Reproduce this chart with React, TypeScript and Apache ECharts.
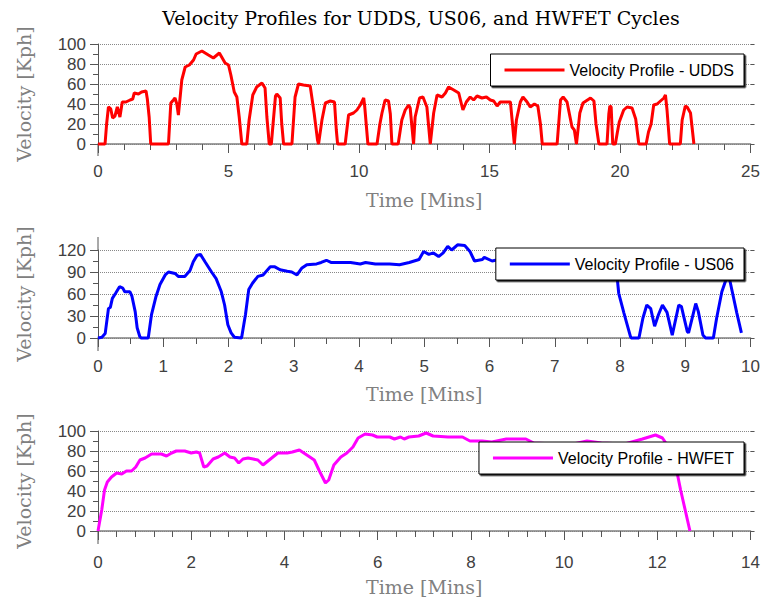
import { useEffect, useRef } from "react";
import * as echarts from "echarts";

const titleText = "Velocity Profiles for UDDS, US06, and HWFET Cycles";
const xName = "Time [Mins]";
const yName = "Velocity [Kph]";
const seriesNames = ["Velocity Profile - UDDS", "Velocity Profile - US06", "Velocity Profile - HWFET"];
const seriesColors = ["#ff0000", "#0000ff", "#ff00ff"];

// [time (min), speed (kph)]
const uddsPoints = [
  [0, 0], [0.27, 0], [0.33, 20], [0.4, 37], [0.49, 35], [0.56, 26], [0.65, 28], [0.74, 37], [0.84, 27], [0.93, 42],
  [1.07, 42], [1.23, 44], [1.33, 45], [1.39, 51], [1.55, 50], [1.67, 52], [1.84, 53], [1.89, 45], [1.96, 27], [2.02, 0],
  [2.7, 0], [2.79, 41], [2.89, 44], [2.95, 46], [3.02, 40], [3.08, 29], [3.14, 45], [3.21, 64], [3.34, 77], [3.5, 79],
  [3.66, 84], [3.76, 90], [3.98, 93], [4.23, 89], [4.42, 86], [4.65, 91], [4.87, 81], [5.0, 79], [5.09, 69], [5.22, 52],
  [5.32, 47], [5.41, 27], [5.51, 0], [5.7, 0], [5.79, 24], [5.93, 49], [6.08, 57], [6.28, 61], [6.4, 56], [6.47, 27],
  [6.56, 0], [6.64, 0], [6.72, 24], [6.8, 48], [6.85, 50], [6.98, 46], [7.04, 20], [7.11, 0], [7.43, 0], [7.55, 47],
  [7.68, 60], [7.87, 59], [8.13, 58], [8.28, 31], [8.41, 4], [8.45, 0], [8.58, 24], [8.71, 41], [8.9, 43], [9.06, 42],
  [9.13, 14], [9.18, 0], [9.47, 0], [9.6, 29], [9.79, 31], [9.92, 34], [10.05, 39], [10.18, 46], [10.22, 37], [10.34, 0],
  [10.69, 0], [10.8, 20], [10.88, 31], [11.0, 44], [11.13, 43], [11.2, 30], [11.26, 0], [11.5, 0], [11.64, 24], [11.77, 34],
  [11.9, 39], [11.96, 36], [12.09, 0], [12.15, 27], [12.32, 46], [12.45, 47], [12.6, 37], [12.73, 0], [12.86, 31], [12.99, 49],
  [13.18, 47], [13.31, 51], [13.43, 57], [13.63, 54], [13.82, 51], [13.98, 34], [14.11, 42], [14.26, 47], [14.39, 44], [14.52, 48],
  [14.71, 46], [14.88, 47], [15.03, 44], [15.16, 43], [15.29, 38], [15.41, 42], [15.8, 42], [15.88, 20], [15.95, 0], [16.03, 24],
  [16.18, 42], [16.28, 47], [16.44, 42], [16.56, 37], [16.72, 40], [16.85, 38], [16.95, 20], [17.02, 0], [17.59, 0], [17.72, 44],
  [17.82, 47], [17.97, 42], [18.03, 34], [18.16, 17], [18.25, 14], [18.33, 0], [18.46, 31], [18.58, 41], [18.87, 46], [19.0, 43],
  [19.08, 20], [19.19, 0], [19.5, 0], [19.57, 30], [19.61, 38], [19.66, 37], [19.72, 0], [19.82, 0], [19.9, 12], [19.97, 22],
  [20.14, 34], [20.27, 37], [20.46, 36], [20.6, 25], [20.72, 0], [21.0, 0], [21.09, 12], [21.19, 20], [21.29, 39], [21.42, 40],
  [21.55, 43], [21.68, 46], [21.74, 49], [21.8, 34], [21.9, 0], [22.31, 0], [22.38, 24], [22.5, 38], [22.57, 37], [22.7, 31],
  [22.83, 0],
];

const us06Points = [
  [0, 0], [0.06, 1], [0.11, 6], [0.16, 40], [0.19, 42], [0.22, 54], [0.27, 61], [0.33, 70], [0.38, 68], [0.41, 63],
  [0.49, 63], [0.52, 57], [0.57, 36], [0.6, 14], [0.64, 2], [0.66, 0], [0.77, 0], [0.82, 32], [0.89, 57], [0.95, 73],
  [1.03, 86], [1.08, 90], [1.18, 88], [1.23, 84], [1.33, 84], [1.41, 92], [1.46, 104], [1.52, 113], [1.57, 114], [1.64, 104],
  [1.74, 90], [1.81, 81], [1.89, 63], [1.94, 45], [1.99, 18], [2.04, 7], [2.09, 1], [2.2, 0], [2.26, 32], [2.31, 66],
  [2.37, 75], [2.45, 84], [2.53, 86], [2.57, 90], [2.64, 97], [2.71, 97], [2.79, 93], [2.9, 91], [2.97, 90], [3.05, 86],
  [3.12, 95], [3.2, 100], [3.35, 101], [3.42, 103], [3.5, 106], [3.57, 103], [3.87, 103], [4.02, 101], [4.1, 103], [4.25, 101],
  [4.47, 101], [4.62, 100], [4.77, 103], [4.92, 107], [4.99, 118], [5.07, 114], [5.14, 116], [5.22, 111], [5.29, 116], [5.36, 125],
  [5.42, 120], [5.51, 127], [5.62, 126], [5.7, 118], [5.77, 105], [5.89, 107], [5.92, 110], [6.04, 105], [6.3, 110], [6.7, 113],
  [7.1, 115], [7.5, 110], [7.8, 97], [7.96, 79], [7.98, 61], [8.06, 34], [8.11, 18], [8.16, 2], [8.17, 0], [8.29, 0],
  [8.35, 27], [8.41, 45], [8.47, 40], [8.53, 16], [8.59, 32], [8.65, 45], [8.72, 35], [8.8, 4], [8.9, 45], [8.94, 43],
  [9.03, 9], [9.05, 7], [9.16, 47], [9.2, 36], [9.27, 4], [9.31, 0], [9.43, 0], [9.48, 27], [9.56, 63], [9.61, 76],
  [9.66, 88], [9.72, 63], [9.79, 34], [9.86, 7],
];

const hwfetPoints = [
  [0, 0], [0.08, 21], [0.14, 41], [0.2, 49], [0.29, 54], [0.4, 58], [0.51, 57], [0.61, 60], [0.72, 60], [0.81, 64],
  [0.9, 71], [1.01, 73], [1.15, 77], [1.36, 77], [1.47, 75], [1.58, 78], [1.68, 80], [1.86, 80], [2.0, 78], [2.11, 79],
  [2.18, 78], [2.27, 64], [2.34, 65], [2.47, 72], [2.58, 74], [2.72, 78], [2.83, 74], [2.93, 73], [3.02, 68], [3.11, 72],
  [3.22, 73], [3.33, 72], [3.43, 71], [3.54, 66], [3.7, 72], [3.86, 78], [4.06, 78], [4.17, 79], [4.32, 81], [4.48, 76],
  [4.64, 71], [4.74, 61], [4.88, 48], [4.95, 51], [5.06, 66], [5.21, 74], [5.34, 78], [5.47, 84], [5.58, 93], [5.73, 97],
  [5.89, 96], [5.99, 94], [6.26, 94], [6.36, 92], [6.49, 94], [6.57, 92], [6.67, 94], [6.88, 95], [7.04, 98], [7.19, 95],
  [7.51, 94], [7.82, 94], [7.98, 90], [8.24, 90], [8.45, 89], [8.76, 92], [9.18, 92], [9.35, 88], [9.8, 87], [10.2, 87],
  [10.49, 90], [10.8, 88], [11.3, 87], [11.68, 92], [11.96, 96], [12.11, 93], [12.3, 80], [12.43, 57], [12.5, 41], [12.7, 0],
];

const xMaxes = [25, 10, 14];
const xIntervals = [5, 1, 2];
const xMinorSplits = [5, 2, 5];
const yMaxes = [100, 120, 100];
const yIntervals = [20, 30, 20];
const gridTops = [44, 250, 431];
const gridHeights = [100, 88, 100];
const xLabelMargins = [19, 20, 23];
const legendTops = [54, 248, 442];

const labelStyle = { color: "#404040", fontFamily: "Liberation Sans", fontSize: 17 };
const nameStyle = { color: "#808080", fontFamily: "DejaVu Serif", fontSize: 19 };

export default function App() {
  const ref = useRef<HTMLDivElement>(null);
  useEffect(() => {
    document.body.style.margin = "0";
    if (!ref.current) return;
    const chart = echarts.init(ref.current, undefined, { renderer: "svg" });
    const allData = [uddsPoints, us06Points, hwfetPoints];
    const grid = gridTops.map((top, i) => ({ left: 98, right: 11, top, height: gridHeights[i] }));
    const xAxis = xMaxes.map((max, i) => ({
      type: "value",
      gridIndex: i,
      min: 0,
      max,
      interval: xIntervals[i],
      name: xName,
      nameLocation: "middle",
      nameGap: 46,
      nameTextStyle: nameStyle,
      axisLine: { show: true, onZero: false, lineStyle: { color: "#808080", width: 1.5 } },
      axisTick: { show: true, length: 9, lineStyle: { color: "#555" } },
      minorTick: { show: true, splitNumber: xMinorSplits[i], length: 6, lineStyle: { color: "#555" } },
      axisLabel: { ...labelStyle, margin: xLabelMargins[i] },
      splitLine: { show: false },
    }));
    const yAxis: any[] = [];
    yMaxes.forEach((max, i) => {
      yAxis.push({
        type: "value",
        gridIndex: i,
        min: 0,
        max,
        interval: yIntervals[i],
        name: yName,
        nameLocation: "middle",
        nameGap: 65,
        nameTextStyle: nameStyle,
        axisLine: { show: true, lineStyle: { color: "#555", width: 1 } },
        axisTick: { show: true, length: 8, lineStyle: { color: "#555" } },
        minorTick: { show: true, splitNumber: 2, length: 5, lineStyle: { color: "#555" } },
        axisLabel: { ...labelStyle, margin: 12 },
        splitLine: { show: true, lineStyle: { type: "dotted", color: "#888", width: 1 } },
      });
      yAxis.push({
        type: "value",
        gridIndex: i,
        position: "right",
        min: 0,
        max,
        interval: yIntervals[i],
        axisLine: { show: false },
        axisTick: { show: true, length: 4, lineStyle: { color: "#555" } },
        axisLabel: { show: false },
        splitLine: { show: false },
      });
    });
    const series = allData.map((data, i) => ({
      type: "line",
      name: seriesNames[i],
      xAxisIndex: i,
      yAxisIndex: i * 2,
      data,
      symbol: "none",
      clip: false,
      lineStyle: { color: seriesColors[i], width: 3 },
      itemStyle: { color: seriesColors[i] },
      z: 3,
    }));
    const legend = seriesNames.map((n, i) => ({
      data: [n],
      right: 19,
      top: legendTops[i],
      orient: "horizontal",
      padding: [8, 10, 8, 14],
      icon: "rect",
      itemWidth: 60,
      itemHeight: 3,
      backgroundColor: "#fff",
      borderColor: "#000",
      borderWidth: 1,
      borderRadius: 0,
      shadowColor: "rgba(0,0,0,0.9)",
      shadowBlur: 1,
      shadowOffsetX: 1.5,
      shadowOffsetY: 1.5,
      itemStyle: { color: seriesColors[i] },
      selectedMode: false,
      textStyle: { color: "#000", fontFamily: "Liberation Sans", fontSize: 16, lineHeight: 16 },
    }));
    const axisExt = [
      [144, 156],
      [237, 250],
      [338, 351],
      [531, 544],
    ];
    const graphic: any[] = [
      {
        type: "text",
        x: 421,
        y: 18,
        style: {
          text: titleText,
          fill: "#000",
          font: '19px "DejaVu Serif"',
          align: "center",
          verticalAlign: "middle",
        },
      },
      ...axisExt.map(([y1, y2]) => ({
        type: "line",
        shape: { x1: 98, y1, x2: 98, y2 },
        style: { stroke: "#555", lineWidth: 1 },
      })),
    ];
    chart.setOption({
      animation: false,
      backgroundColor: "#fff",
      grid,
      xAxis,
      yAxis,
      series,
      legend,
      graphic,
    });
    return () => chart.dispose();
  }, []);
  return <div ref={ref} style={{ width: 763, height: 600 }} />;
}
